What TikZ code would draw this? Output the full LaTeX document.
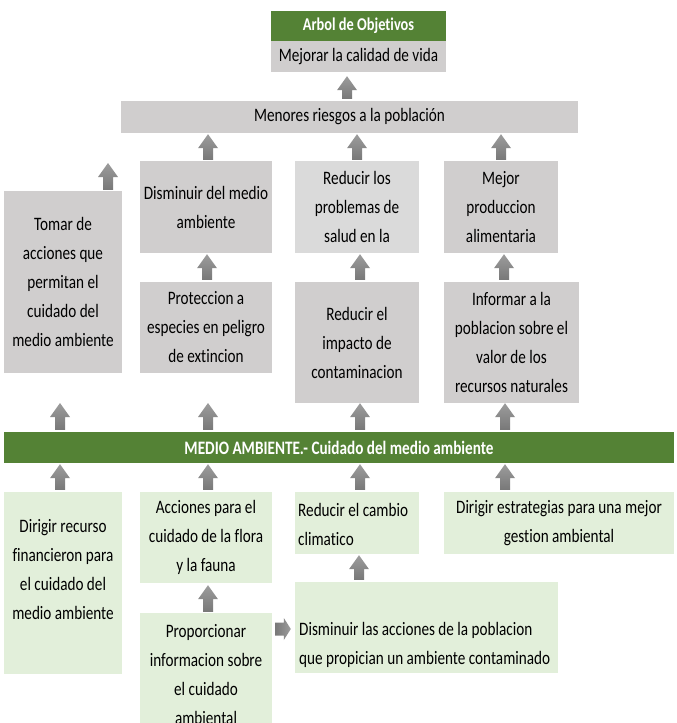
\documentclass[tikz,border=0pt]{standalone}
\usepackage{fontspec}
\setmainfont{Carlito}[FakeStretch=0.8, Ligatures=NoCommon]
\usetikzlibrary{calc}
\definecolor{grn}{HTML}{548235}
\definecolor{gbox}{HTML}{D0CECE}
\definecolor{gboxl}{HTML}{DADADA}
\definecolor{lgrn}{HTML}{E2EFDA}
\definecolor{arrtop}{HTML}{9C9C9C}
\definecolor{arrbot}{HTML}{787878}
\newcommand\bodyfont{\fontsize{19}{29}\selectfont}
\newcommand\vup[3]{%
  \path[top color=arrtop,bottom color=arrbot] let \p1=#2, \p2=#3 in
    ({#1pt-5pt},{\y1}) -- ({#1pt-5pt},{\y2-14pt}) -- ({#1pt-10pt},{\y2-14pt}) --
    ({#1pt},{\y2}) -- ({#1pt+10pt},{\y2-14pt}) -- ({#1pt+5pt},{\y2-14pt}) --
    ({#1pt+5pt},{\y1}) -- cycle;}
\newcommand\hright[3]{%
  \path[left color=arrbot,right color=arrtop] let \p1=#2, \p2=#3 in
    ({\x1},{-#1pt+6.5pt}) -- ({\x2-7pt},{-#1pt+6.5pt}) -- ({\x2-7pt},{-#1pt+11pt}) --
    ({\x2},{-#1pt}) -- ({\x2-7pt},{-#1pt-11pt}) -- ({\x2-7pt},{-#1pt-6.5pt}) --
    ({\x1},{-#1pt-6.5pt}) -- cycle;}
\begin{document}
\begin{tikzpicture}[x=1pt,y=-1pt,
  box/.style={rectangle, inner sep=0pt, align=center, font=\bodyfont, text=black},
  graybox/.style={box, fill=gbox},
  lgraybox/.style={box, fill=gboxl},
  greenbox/.style={box, fill=grn, text=white},
  lgreenbox/.style={box, fill=lgrn},
  txt/.style={inner sep=0pt, font=\bodyfont, text=black}]
\useasboundingbox (0,0) rectangle (677,723);
\clip (0,0) rectangle (677,723);

% top
\node[greenbox, minimum width=175pt, minimum height=30pt, font=\bfseries\fontsize{18}{22}\selectfont] (arbol) at (358.5,26) {Arbol de Objetivos};
\node[graybox, minimum width=175pt, minimum height=31pt] (mejorar) at (358.5,56.5) {Mejorar la calidad de vida};
\node[graybox, minimum width=457pt, minimum height=32pt] (menores) at (349.5,117) {Menores riesgos a la población};

% effects
\node[graybox, minimum width=118pt, minimum height=182pt] (tomar) at (63,282) {Tomar de\\acciones que\\permitan el\\cuidado del\\medio ambiente};
\node[graybox, minimum width=132pt, minimum height=92pt] (dism) at (206,207) {Disminuir del medio\\ambiente};
\node[lgraybox, minimum width=124pt, minimum height=92pt] (redlos) at (357,207) {Reducir los\\problemas de\\salud en la};
\node[graybox, minimum width=114pt, minimum height=92pt] (mejor) at (501,207) {Mejor\\produccion\\alimentaria};
\node[graybox, minimum width=132pt, minimum height=91pt] (prot) at (206,327.5) {Proteccion a\\especies en peligro\\de extincion};
\node[graybox, minimum width=124pt, minimum height=121pt] (redel) at (357,342.5) {Reducir el\\impacto de\\contaminacion};
\node[graybox, minimum width=135pt, minimum height=121pt] (inform) at (511.5,342.5) {Informar a la\\poblacion sobre el\\valor de los\\recursos naturales};

% central bar
\node[greenbox, minimum width=670pt, minimum height=31pt, font=\bfseries\fontsize{19}{22}\selectfont] (medio) at (339,447.5) {MEDIO AMBIENTE.- Cuidado del medio ambiente};

% means
\node[lgreenbox, minimum width=118pt, minimum height=182pt] (dirrec) at (63,583) {};
\node[txt, align=center] (dirrecT) at (63,570) {Dirigir recurso\\financieron para\\el cuidado del\\medio ambiente};
\node[lgreenbox, minimum width=132pt, minimum height=91pt] (acc) at (206,537.5) {Acciones para el\\cuidado de la flora\\y la fauna};
\node[lgreenbox, minimum width=124pt, minimum height=62pt] (redcam) at (357,523) {};
\node[txt, align=left, anchor=west] (redcamT) at (298,524) {Reducir el cambio\\climatico};
\node[lgreenbox, minimum width=230pt, minimum height=62pt] (direst) at (559,523) {Dirigir estrategias para una mejor\\gestion ambiental};
\node[lgreenbox, minimum width=132pt, minimum height=128pt] (prop) at (206,677) {};
\node[txt, align=center] (propT) at (206,675) {Proporcionar\\informacion sobre\\el cuidado\\ambiental};
\node[lgreenbox, minimum width=263pt, minimum height=91pt] (disacc) at (426.5,627.5) {};
\node[txt, align=left, anchor=west] (disaccT) at (299,645) {Disminuir las acciones de la poblacion\\que propician un ambiente contaminado};

% free arrow ends
\coordinate (c108) at (108,163);
\coordinate (c60) at (60,403);
\coordinate (c208) at (208,403);

% arrows
\vup{347}{([yshift=2pt]menores.north)}{([yshift=-4pt]mejorar.south)}
\vup{208}{([yshift=1pt]dism.north)}{([yshift=-1pt]menores.south)}
\vup{357}{([yshift=1pt]redlos.north)}{([yshift=-1pt]menores.south)}
\vup{501}{([yshift=1pt]mejor.north)}{([yshift=-1pt]menores.south)}
\vup{108}{([yshift=1pt]tomar.north)}{(c108)}
\vup{207}{([yshift=2pt]prot.north)}{([yshift=-1pt]dism.south)}
\vup{360}{([yshift=2pt]redel.north)}{([yshift=-1pt]redlos.south)}
\vup{504}{([yshift=2pt]inform.north)}{([yshift=-1pt]mejor.south)}
\vup{60}{([yshift=2pt]medio.north)}{(c60)}
\vup{208}{([yshift=2pt]medio.north)}{(c208)}
\vup{360}{([yshift=2pt]medio.north)}{(redel.south)}
\vup{505}{([yshift=2pt]medio.north)}{(inform.south)}
\vup{60}{([yshift=2pt]dirrec.north)}{([yshift=-1pt]medio.south)}
\vup{208}{([yshift=2pt]acc.north)}{([yshift=-1pt]medio.south)}
\vup{360}{([yshift=2pt]redcam.north)}{([yshift=-1pt]medio.south)}
\vup{505}{([yshift=2pt]direst.north)}{([yshift=-1pt]medio.south)}
\vup{208}{([yshift=1pt]prop.north)}{([yshift=-2pt]acc.south)}
\vup{359}{([yshift=2pt]disacc.north)}{([yshift=-1pt]redcam.south)}
\hright{629}{([xshift=3pt]prop.east)}{([xshift=-4pt]disacc.west)}
\end{tikzpicture}
\end{document}
